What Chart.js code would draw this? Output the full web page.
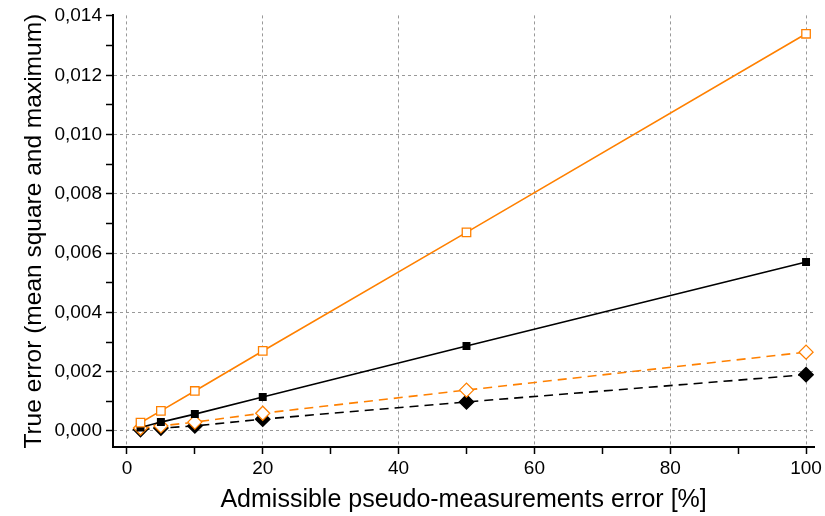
<!DOCTYPE html>
<html>
<head>
<meta charset="utf-8">
<script src="https://cdn.jsdelivr.net/npm/chart.js@4"></script>
<style>
  html, body { margin: 0; padding: 0; background: #fff; }
  #wrap { width: 825px; height: 516px; }
</style>
</head>
<body>
<div id="wrap"><canvas id="errChart" width="825" height="516"></canvas></div>
<script>
// admissible pseudo-measurement error, %
const errorPct = [2, 5, 10, 20, 50, 100];

// true error values
const maxOrange = [0.00028, 0.00068, 0.00135, 0.0027, 0.0067, 0.0134];
const maxBlack = [0.00012, 0.0003, 0.00057, 0.00115, 0.00287, 0.0057];
const rmsOrange = [0.0001, 0.00017, 0.0003, 0.0006, 0.00138, 0.00266];
const rmsBlack = [0.00005, 0.0001, 0.00017, 0.0004, 0.00098, 0.0019];

const xTicks = [0, 10, 20, 30, 40, 50, 60, 70, 80, 90, 100];
const yTicks = [0, 0.001, 0.002, 0.003, 0.004, 0.005, 0.006, 0.007, 0.008, 0.009, 0.010, 0.011, 0.012, 0.013, 0.014];

const ORANGE = '#ff8000';

function pts(ys) {
    return errorPct.map((x, i) => ({ x: x, y: ys[i] }));
}

const isMajorX = v => Math.round(v) % 20 === 0;
const isMajorY = v => Math.round(v * 1000) % 2 === 0;

const ctx = document.getElementById('errChart').getContext('2d');

const errChart = new Chart(ctx, {
    type: 'scatter',
    data: {
        datasets: [
            {
                data: pts(maxOrange),
                showLine: true,
                borderColor: ORANGE,
                borderWidth: 1.6,
                pointStyle: 'rect',
                pointRadius: 6,
                pointBorderWidth: 1.3,
                pointBackgroundColor: '#fff',
                pointBorderColor: ORANGE,
                order: 1
            },
            {
                data: pts(maxBlack),
                showLine: true,
                borderColor: '#000',
                borderWidth: 1.6,
                pointStyle: 'rect',
                pointRadius: 4.5,
                pointBackgroundColor: '#000',
                pointBorderColor: '#000',
                order: 2
            },
            {
                data: pts(rmsOrange),
                showLine: true,
                borderColor: ORANGE,
                borderWidth: 1.6,
                borderDash: [9, 6],
                pointStyle: 'rectRot',
                pointRadius: 7,
                pointBorderWidth: 1.3,
                pointBackgroundColor: '#fff',
                pointBorderColor: ORANGE,
                order: 3
            },
            {
                data: pts(rmsBlack),
                showLine: true,
                borderColor: '#000',
                borderWidth: 1.6,
                borderDash: [9, 6],
                pointStyle: 'rectRot',
                pointRadius: 7,
                pointBackgroundColor: '#000',
                pointBorderColor: '#000',
                order: 4
            }
        ]
    },
    options: {
        responsive: false,
        animation: false,
        layout: { padding: { top: 12, right: 3, left: 0, bottom: 0 } },
        plugins: {
            legend: { display: false },
            tooltip: { enabled: false }
        },
        scales: {
            x: {
                type: 'linear',
                min: -2.05,
                max: 101.2,
                afterBuildTicks: s => { s.ticks = xTicks.map(v => ({ value: v })); },
                afterFit: s => { s.height = 69; },
                ticks: {
                    autoSkip: false,
                    maxRotation: 0,
                    color: '#000',
                    padding: 3,
                    font: { family: 'Liberation Sans, Arial', size: 19 },
                    callback: v => isMajorX(v) ? String(v) : ''
                },
                grid: {
                    color: c => (c.tick && isMajorX(c.tick.value)) ? '#999' : 'rgba(0,0,0,0)',
                    lineWidth: 1,
                    tickColor: '#000',
                    tickWidth: 1.5,
                    tickLength: 7
                },
                border: { display: true, color: '#000', width: 2, dash: [3, 3] },
                title: {
                    display: true,
                    text: 'Admissible pseudo-measurements error [%]',
                    color: '#000',
                    font: { family: 'Liberation Sans, Arial', size: 25 },
                    padding: { top: 0, bottom: 1 }
                }
            },
            y: {
                type: 'linear',
                min: -0.00054,
                max: 0.01402,
                afterBuildTicks: s => { s.ticks = yTicks.map(v => ({ value: v })); },
                afterFit: s => { s.width = 113; },
                ticks: {
                    autoSkip: false,
                    color: '#000',
                    padding: 4,
                    font: { family: 'Liberation Sans, Arial', size: 19 },
                    callback: v => isMajorY(v) ? v.toFixed(3).replace('.', ',') : ''
                },
                grid: {
                    color: c => (c.tick && isMajorY(c.tick.value) && c.tick.value < 0.0139) ? '#999' : 'rgba(0,0,0,0)',
                    lineWidth: 1,
                    tickColor: '#000',
                    tickWidth: 1.5,
                    tickLength: 7
                },
                border: { display: true, color: '#000', width: 2, dash: [3, 3] },
                title: {
                    display: true,
                    text: 'True error (mean square and maximum)',
                    color: '#000',
                    font: { family: 'Liberation Sans, Arial', size: 24.5 },
                    padding: { top: 20, bottom: 0 }
                }
            }
        }
    }
});
</script>
</body>
</html>
